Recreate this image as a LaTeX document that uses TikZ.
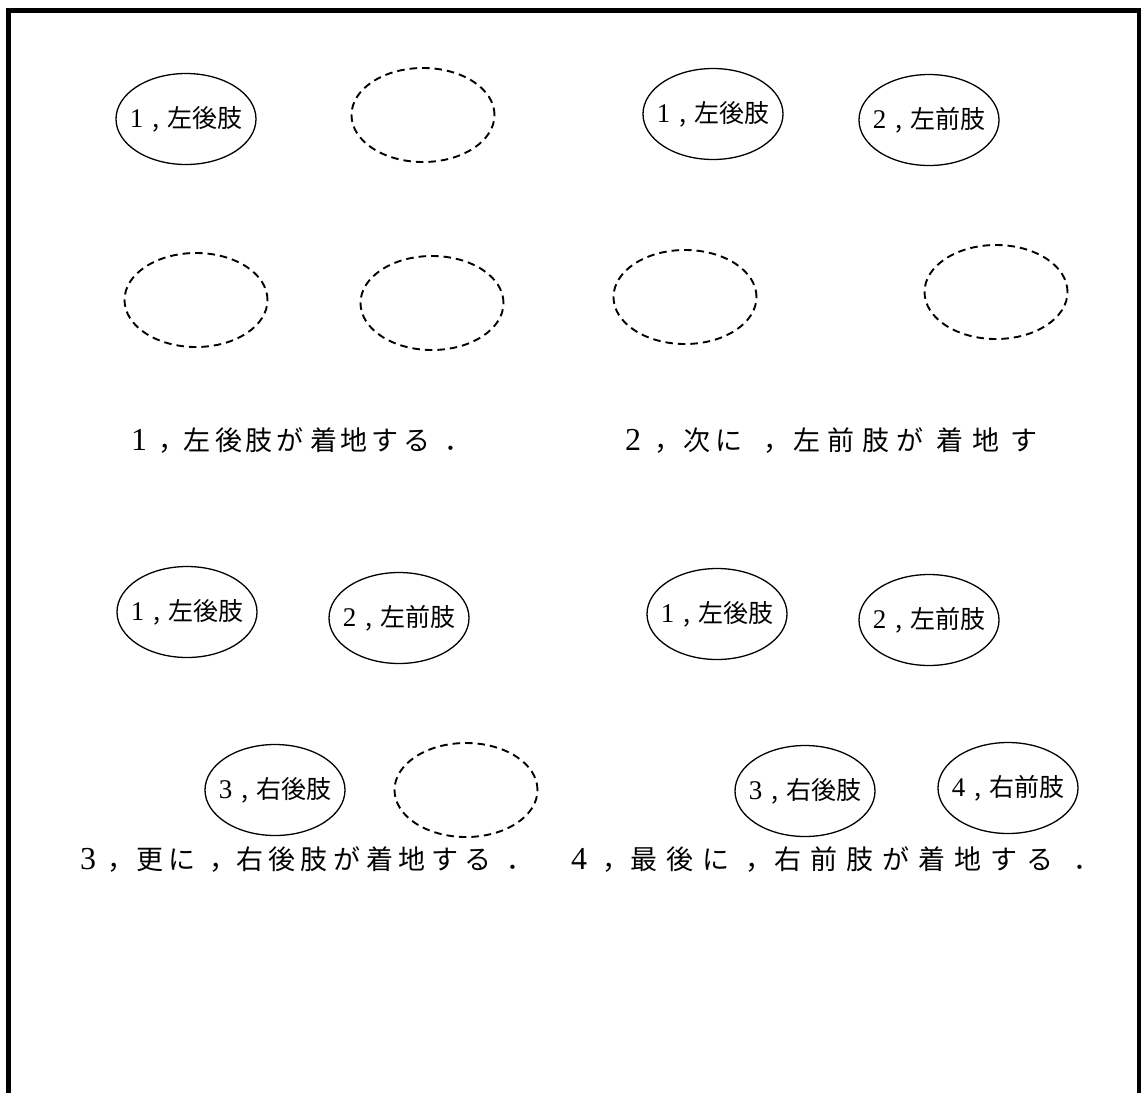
\documentclass[tikz,border=0pt]{standalone}
\usepackage{fontspec}
\newfontfamily\cjk{Noto Sans CJK JP}
\newfontfamily\serifnum{Liberation Serif}
\usetikzlibrary{shapes.geometric}
\newcommand\limbtext[2]{{\serifnum\fontsize{27}{27}\selectfont #1}\hspace{9pt}{\cjk ,}\hspace{8pt}{\cjk #2}}
\tikzset{
  limb/.style={ellipse, draw, line width=1.3pt, minimum width=140pt, minimum height=91pt,
    inner xsep=-25pt, inner ysep=0pt, font=\fontsize{25}{25}\selectfont},
  vacant/.style={ellipse, draw, line width=1.9pt, dash pattern=on 7.5pt off 5pt,
    minimum width=143pt, minimum height=94pt, inner sep=0pt},
  capchar/.style={anchor=base, inner sep=0pt, font=\cjk\fontsize{27}{27}\selectfont},
  capnum/.style={anchor=base, inner sep=0pt, font=\serifnum\fontsize{32}{32}\selectfont},
  frame/.style={line width=5.5pt, line join=miter}
}
\begin{document}
\begin{tikzpicture}[x=1pt,y=-1pt]
\useasboundingbox (0,0) rectangle (1141,1093);
% frame (open at the bottom)
\coordinate (fbl) at (8.5,1093);
\coordinate (ftl) at (8.5,10.5);
\coordinate (ftr) at (1139.5,10.5);
\coordinate (fbr) at (1139.5,1093);
\draw[frame] (fbl) -- (ftl) -- (ftr) -- (fbr);

% panel 1
\node[limb] (p1a) at (186,119) {\limbtext{1}{左後肢}};
\node[vacant] (p1b) at (423,115) {};
\node[vacant] (p1c) at (196,300) {};
\node[vacant] (p1d) at (432,303) {};

% panel 2
\node[limb] (p2a) at (713,114) {\limbtext{1}{左後肢}};
\node[limb] (p2b) at (929,120) {\limbtext{2}{左前肢}};
\node[vacant] (p2c) at (685,297) {};
\node[vacant] (p2d) at (996,292) {};

% panel 3
\node[limb] (p3a) at (187,612) {\limbtext{1}{左後肢}};
\node[limb] (p3b) at (399,618) {\limbtext{2}{左前肢}};
\node[limb] (p3c) at (275,790) {\limbtext{3}{右後肢}};
\node[vacant] (p3d) at (466,790) {};

% panel 4
\node[limb] (p4a) at (717,614) {\limbtext{1}{左後肢}};
\node[limb] (p4b) at (929,620) {\limbtext{2}{左前肢}};
\node[limb] (p4c) at (805,791) {\limbtext{3}{右後肢}};
\node[limb] (p4d) at (1008,788) {\limbtext{4}{右前肢}};

% captions
\node[capnum] (c1n) at (139,450) {1};
\foreach \ch/\x [count=\i] in {，/171.5,左/196.5,後/229,肢/259,が/290,着/323.5,地/354,す/385,る/416.5,．/458}
  \node[capchar] (c1-\i) at (\x,450) {\ch};

\node[capnum] (c2n) at (633,450) {2};
\foreach \ch/\x [count=\i] in {，/668,次/697,に/729,，/777,左/807,前/841,肢/876,が/910,着/950,地/986,す/1024}
  \node[capchar] (c2-\i) at (\x,450) {\ch};

\node[capnum] (c3n) at (88,869) {3};
\foreach \ch/\x [count=\i] in {，/121,更/150,に/182,，/223,右/250,後/282,肢/314,が/347,着/380,地/412,す/445,る/478,．/520}
  \node[capchar] (c3-\i) at (\x,869) {\ch};

\node[capnum] (c4n) at (579,869) {4};
\foreach \ch/\x [count=\i] in {，/616,最/644,後/680,に/716,，/759,右/788,前/824,肢/860,が/896,着/932,地/968,す/1004,る/1040,．/1087}
  \node[capchar] (c4-\i) at (\x,869) {\ch};
\end{tikzpicture}
\end{document}
